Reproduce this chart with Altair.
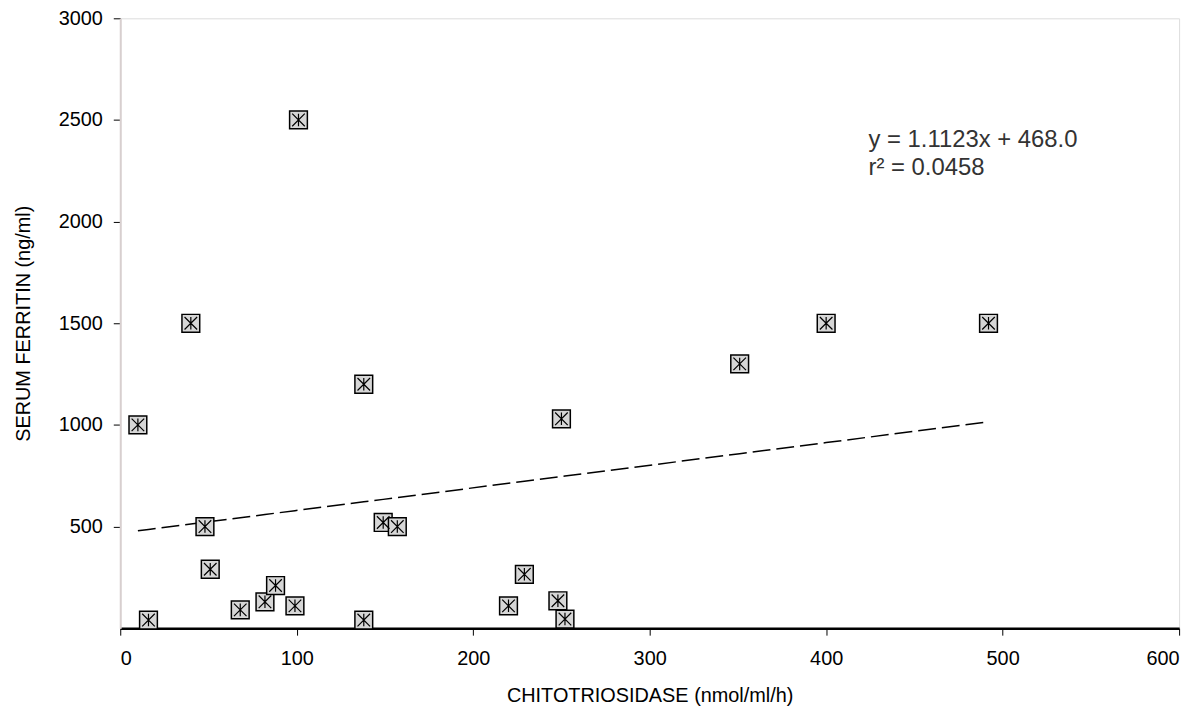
import altair as alt
import pandas as pd

chito = [10, 16, 40, 48, 51, 68, 82, 88, 99, 101, 138, 138, 149, 157, 220, 229, 248, 250, 252, 351, 400, 492]
ferritin = [1000, 40, 1500, 500, 290, 90, 130, 210, 110, 2500, 1200, 40, 520, 500, 110, 265, 135, 1030, 45, 1300, 1500, 1500]

slope = 1.1123
intercept = 468.0
eq_lines = ["y = 1.1123x + 468.0", "r² = 0.0458"]
eq_x = [424, 424]
eq_y = [2400, 2265]

df = pd.DataFrame({"x": chito, "y": ferritin})
eq = pd.DataFrame({"t": eq_lines, "x": eq_x, "y": eq_y})

FONT = "Liberation Sans"
xs = alt.Scale(domain=[0, 600], nice=False)
ys = alt.Scale(domain=[0, 3000], nice=False)

xenc = alt.X("x:Q", scale=xs, title="CHITOTRIOSIDASE  (nmol/ml/h)",
             axis=alt.Axis(values=[0, 100, 200, 300, 400, 500, 600], grid=False, format="d",
                           domainColor="black", domainWidth=2.5, tickColor="black",
                           tickSize=7, labelPadding=14, labelFontSize=20,
                           titleFontSize=20, titleFontWeight="normal", titlePadding=17,
                           labelFont=FONT, titleFont=FONT, labelColor="black", titleColor="black"))
yenc = alt.Y("y:Q", scale=ys, title="SERUM FERRITIN  (ng/ml)",
             axis=alt.Axis(values=[500, 1000, 1500, 2000, 2500, 3000], grid=False, format="d",
                           domainColor="#d8cfcf", domainWidth=2, tickColor="black",
                           tickSize=7, labelPadding=11, labelFontSize=20,
                           titleFontSize=20, titleFontWeight="normal", titlePadding=25,
                           labelFont=FONT, titleFont=FONT, labelColor="black", titleColor="black"))

base = alt.Chart(df)

trend = base.transform_calculate(
    fit=f"{slope} * datum.x + {intercept}"
).mark_line(color="black", strokeWidth=1.5, strokeDash=[18, 6]).encode(
    x=xenc, y=alt.Y("fit:Q", scale=ys)
)

squares = base.mark_point(shape="square", filled=True, fill="#d6d6d6",
                          stroke="black", strokeWidth=1.5, size=320, opacity=1).encode(x=xenc, y=yenc)

stars = base.mark_point(shape="M-1,-1L1,1M1,-1L-1,1M0,-1L0,1", filled=False,
                        stroke="black", strokeWidth=1.2, size=160, opacity=1).encode(x=xenc, y=yenc)

text = alt.Chart(eq).mark_text(align="left", baseline="middle", fontSize=24,
                               font=FONT, color="#333333").encode(
    x=alt.X("x:Q", scale=xs), y=alt.Y("y:Q", scale=ys), text="t:N"
)

chart = alt.layer(trend, squares, stars, text).properties(
    width=1066, height=614,
    autosize=alt.AutoSizeParams(type="none"),
    padding={"left": 113, "top": 8, "right": 16, "bottom": 85},
).configure_view(stroke="black", strokeWidth=1.5).configure(background="white")

chart.save("out.html", embed_options={"renderer": "svg", "actions": False})
